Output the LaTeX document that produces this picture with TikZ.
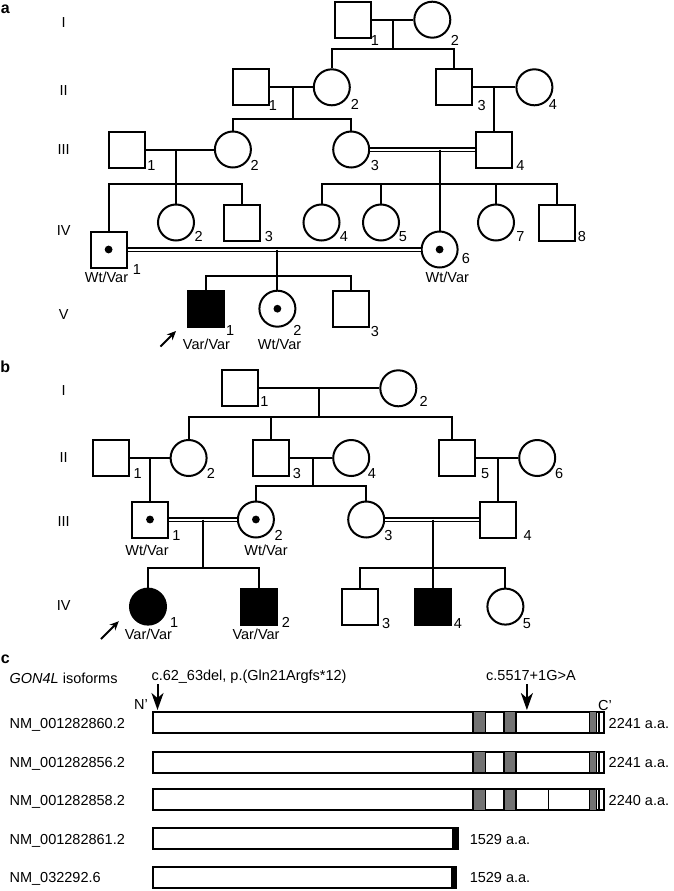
\documentclass[tikz,border=0pt]{standalone}
\usepackage{fontspec}
\setmainfont{Liberation Sans}
\usetikzlibrary{arrows.meta}

\begin{document}
\begin{tikzpicture}[x=1pt, y=-1pt, line width=2pt,
    font=\fontsize{14.5}{17}\selectfont,
    male/.style={draw, rectangle, minimum size=36pt, inner sep=0pt},
    female/.style={draw, circle, minimum size=36pt, inner sep=0pt},
    aff/.style={fill=black},
    carrier/.style={path picture={\fill (path picture bounding box.center) circle (3.9pt);}},
    lab/.style={inner sep=0pt, text height=10.4pt, text depth=0pt},
    panel/.style={anchor=base, inner sep=0pt, font=\fontsize{16}{18}\selectfont\bfseries},
    consang/.style={double, double distance=2pt, line width=1.4pt},
    proband/.style={line width=2pt, -{Stealth[length=9pt, width=8pt]}},
    mutation/.style={line width=2pt, -{Stealth[length=17pt, width=12pt, inset=5pt]}},
    bar/.style={draw, line width=1.8pt, fill=white},
    dom/.style={draw, line width=1.3pt, fill=black!55}]

  \useasboundingbox (0,0) rectangle (674,891);

  % ---------------- panel a ----------------
  \node[panel] (pa) at (5.3,13.3) {a};
  \node[lab] (aGI)   at (63.7,22)    {I};
  \node[lab] (aGII)  at (63.7,90)    {II};
  \node[lab] (aGIII) at (63.7,149.5) {III};
  \node[lab] (aGIV)  at (63.7,230)   {IV};
  \node[lab] (aGV)   at (63.7,314)   {V};

  % generation I
  \node[male]   (aI1) at (352.7,19.7) {};
  \node[female] (aI2) at (432.3,19.7) {};
  \coordinate (aM1) at (392.7,19.7);
  \coordinate (aS1) at (392.7,49.3);

  % generation II
  \node[male]   (aII1) at (250.8,87.3) {};
  \node[female] (aII2) at (331.8,87.3) {};
  \node[male]   (aII3) at (453.8,87.3) {};
  \node[female] (aII4) at (534.4,87.3) {};
  \coordinate (aM2) at (292.5,87.3);
  \coordinate (aS2) at (292.5,119.3);
  \coordinate (aM3) at (494,87.3);

  % generation III
  \node[male]   (aIII1) at (127,149.5)   {};
  \node[female] (aIII2) at (232.9,149.5) {};
  \node[female] (aIII3) at (351.2,149.5) {};
  \node[male]   (aIII4) at (494,149.5)   {};
  \coordinate (aM4) at (176,149.5);
  \coordinate (aS4) at (176,184.3);
  \coordinate (aM5) at (439.6,149.5);
  \coordinate (aS5) at (439.6,184.3);

  % generation IV
  \node[male, carrier]   (aIV1) at (108.6,249.5) {};
  \node[female]          (aIV2) at (176,222.5)   {};
  \node[male]            (aIV3) at (242,222.5)   {};
  \node[female]          (aIV4) at (321.5,222.5) {};
  \node[female]          (aIV5) at (381,222.5)   {};
  \node[female, carrier] (aIV6) at (439.6,249.5) {};
  \node[female]          (aIV7) at (496,222.5)   {};
  \node[male]            (aIV8) at (557.2,222.5) {};
  \coordinate (aM6) at (277.4,249.5);
  \coordinate (aS6) at (277.4,276);

  % generation V
  \node[male, aff]       (aV1) at (205.5,308.7) {};
  \node[female, carrier] (aV2) at (277.4,308.7) {};
  \node[male]            (aV3) at (351,308.7)   {};

  % lines of descent
  \draw (aI1) -- (aI2);
  \draw (aM1) -- (aS1);
  \draw (aII2.north) |- (aS1) -| (aII3.north);

  \draw (aII1) -- (aII2);
  \draw (aII3) -- (aII4);
  \draw (aM2) -- (aS2);
  \draw (aIII2.north) |- (aS2) -| (aIII3.north);
  \draw (aM3) -- (aIII4.north);

  \draw (aIII1) -- (aIII2);
  \draw[consang] (aIII3) -- (aIII4);
  \draw (aM4) -- (aIV2.north);
  \draw (aIV1.north) |- (aS4) -| (aIV3.north);
  \draw (aM5) -- (aIV6.north);
  \draw (aIV4.north) |- (aS5) -| (aIV8.north);
  \draw (aIV5.north) -- (aIV5.north |- aS5);
  \draw (aIV7.north) -- (aIV7.north |- aS5);

  \draw[consang] (aIV1) -- (aIV6);
  \draw (aM6) -- (aV2.north);
  \draw (aV1.north) |- (aS6) -| (aV3.north);

  % numbers and genotypes
  \node[lab] (aI1n)   at (375,40)      {1};
  \node[lab] (aI2n)   at (455,40)      {2};
  \node[lab] (aII1n)  at (273,105)     {1};
  \node[lab] (aII2n)  at (354.8,104)   {2};
  \node[lab] (aII3n)  at (481.7,105)   {3};
  \node[lab] (aII4n)  at (553,104)     {4};
  \node[lab] (aIII1n) at (151.4,165)   {1};
  \node[lab] (aIII2n) at (254.6,165)   {2};
  \node[lab] (aIII3n) at (375,165)     {3};
  \node[lab] (aIII4n) at (520.4,165)   {4};
  \node[lab] (aIV2n)  at (198.7,236)   {2};
  \node[lab] (aIV3n)  at (268.8,236)   {3};
  \node[lab] (aIV4n)  at (344,236)     {4};
  \node[lab] (aIV5n)  at (403,236)     {5};
  \node[lab] (aIV7n)  at (520.4,236)   {7};
  \node[lab] (aIV8n)  at (582,236)     {8};
  \node[lab] (aIV1n)  at (136.8,269.3) {1};
  \node[lab] (aIV6n)  at (465.8,258.3) {6};
  \node[lab] (aIV1g)  at (106.5,277)   {Wt/Var};
  \node[lab] (aIV6g)  at (447.3,277)   {Wt/Var};
  \node[lab] (aV1n)   at (230.1,330.5) {1};
  \node[lab] (aV2n)   at (297.3,330.5) {2};
  \node[lab] (aV3n)   at (375,331.7)   {3};
  \node[lab] (aV1g)   at (206.5,344)   {Var/Var};
  \node[lab] (aV2g)   at (279.6,344)   {Wt/Var};

  % proband
  \coordinate (aPt) at (160.5,346.5);
  \coordinate (aPh) at (176,331);
  \draw[proband] (aPt) -- (aPh);

  % ---------------- panel b ----------------
  \node[panel] (pb) at (5.3,372.7) {b};
  \node[lab] (bGI)   at (63.7,390)   {I};
  \node[lab] (bGII)  at (63.7,457)   {II};
  \node[lab] (bGIII) at (63.7,521.7) {III};
  \node[lab] (bGIV)  at (63.7,605)   {IV};

  % generation I
  \node[male]   (bI1) at (240,388.3)   {};
  \node[female] (bI2) at (398.3,388.3) {};
  \coordinate (bM1) at (318.7,388.3);
  \coordinate (bS1) at (318.7,416.7);

  % generation II
  \node[male]   (bII1) at (111,458)   {};
  \node[female] (bII2) at (188.6,458) {};
  \node[male]   (bII3) at (270.5,458) {};
  \node[female] (bII4) at (351.2,458) {};
  \node[male]   (bII5) at (457.4,458) {};
  \node[female] (bII6) at (537.2,458) {};
  \coordinate (bM2) at (150,458);
  \coordinate (bM3) at (312.7,458);
  \coordinate (bS3) at (312.7,486);
  \coordinate (bM4) at (497.8,458);

  % generation III
  \node[male, carrier]   (bIII1) at (150,519.5)   {};
  \node[female, carrier] (bIII2) at (255.9,519.5) {};
  \node[female]          (bIII3) at (366.2,519.5) {};
  \node[male]            (bIII4) at (497.8,519.5) {};
  \coordinate (bM5) at (203,519.5);
  \coordinate (bS5) at (203,567.7);
  \coordinate (bM6) at (432.6,519.5);
  \coordinate (bS6) at (432.6,567.7);

  % generation IV
  \node[female, aff] (bIV1) at (148,606.6)   {};
  \node[male, aff]   (bIV2) at (258.5,606.6) {};
  \node[male]        (bIV3) at (360.2,606.6) {};
  \node[male, aff]   (bIV4) at (432.6,606.6) {};
  \node[female]      (bIV5) at (505.4,606.6) {};

  % lines of descent
  \draw (bI1) -- (bI2);
  \draw (bM1) -- (bS1);
  \draw (bII2.north) |- (bS1) -| ([xshift=-5.8pt]bII5.north);
  \draw (bII3.north) -- (bII3.north |- bS1);

  \draw (bII1) -- (bII2);
  \draw (bII3) -- (bII4);
  \draw (bII5) -- (bII6);
  \draw (bM2) -- (bIII1.north);
  \draw (bM3) -- (bS3);
  \draw (bIII2.north) |- (bS3) -| (bIII3.north);
  \draw (bM4) -- (bIII4.north);

  \draw[consang] (bIII1) -- (bIII2);
  \draw[consang] (bIII3) -- (bIII4);
  \draw (bM5) -- (bS5);
  \draw (bIV1.north) |- (bS5) -| (bIV2.north);
  \draw (bM6) -- (bIV4.north);
  \draw (bIV3.north) |- (bS6) -| (bIV5.north);

  % numbers and genotypes
  \node[lab] (bI1n)   at (264.5,401.7) {1};
  \node[lab] (bI2n)   at (423.7,401.7) {2};
  \node[lab] (bII1n)  at (137.6,473.3) {1};
  \node[lab] (bII2n)  at (210.8,473.3) {2};
  \node[lab] (bII3n)  at (296.8,473.3) {3};
  \node[lab] (bII4n)  at (372,473.3)   {4};
  \node[lab] (bII5n)  at (485.2,473.3) {5};
  \node[lab] (bII6n)  at (559.1,473.3) {6};
  \node[lab] (bIII1n) at (176.3,535)   {1};
  \node[lab] (bIII2n) at (278.7,535)   {2};
  \node[lab] (bIII3n) at (388.4,535)   {3};
  \node[lab] (bIII4n) at (527.7,535)   {4};
  \node[lab] (bIII1g) at (147,550.5)   {Wt/Var};
  \node[lab] (bIII2g) at (266,550.5)   {Wt/Var};
  \node[lab] (bIV1n)  at (174.2,622.5) {1};
  \node[lab] (bIV2n)  at (286,622.5)   {2};
  \node[lab] (bIV3n)  at (386.2,623.3) {3};
  \node[lab] (bIV4n)  at (458,623.3)   {4};
  \node[lab] (bIV5n)  at (526.9,623.3) {5};
  \node[lab] (bIV1g)  at (148.4,634.5) {Var/Var};
  \node[lab] (bIV2g)  at (256,634.5)   {Var/Var};

  % proband
  \coordinate (bPt) at (101,639);
  \coordinate (bPh) at (118.8,621.2);
  \draw[proband] (bPt) -- (bPh);

  % ---------------- panel c ----------------
  \node[panel] (pc) at (5.3,663.5) {c};
  \node[lab, anchor=west] (cHead) at (8.6,678.3) {\textit{GON4L} isoforms};
  \node[lab, anchor=west] (cVar1) at (150.5,675) {c.62\_63del, p.(Gln21Argfs*12)};
  \node[lab, anchor=west] (cVar2) at (485.2,675) {c.5517+1G>A};
  \node[lab] (cN) at (141,704) {N'};
  \node[lab] (cC) at (605,705) {C'};

  % variant arrows
  \coordinate (cA1t) at (157.5,684);
  \coordinate (cA1h) at (157.5,710);
  \coordinate (cA2t) at (526.9,684);
  \coordinate (cA2h) at (526.9,710);
  \draw[mutation] (cA1t) -- (cA1h);
  \draw[mutation] (cA2t) -- (cA2h);

  % full-length isoforms
  \draw[bar] (152.7,711.8) rectangle (604.3,732.8);
  \draw[bar] (152.7,751.7) rectangle (604.3,772.7);
  \draw[bar] (152.7,789.3) rectangle (604.3,810.3);
  \draw[dom] (473.1,711.8) rectangle (485.2,732.8);
  \draw[dom] (504.1,711.8) rectangle (516.1,732.8);
  \draw[dom] (589.2,711.8) rectangle (596.6,732.8);
  \draw[dom] (473.1,751.7) rectangle (485.2,772.7);
  \draw[dom] (504.1,751.7) rectangle (516.1,772.7);
  \draw[dom] (589.2,751.7) rectangle (596.6,772.7);
  \draw[dom] (473.1,789.3) rectangle (485.2,810.3);
  \draw[dom] (504.1,789.3) rectangle (516.1,810.3);
  \draw[dom] (589.2,789.3) rectangle (596.6,810.3);
  \draw[line width=1.3pt] (598.9,711.8) -- (598.9,732.8);
  \draw[line width=1.3pt] (598.9,751.7) -- (598.9,772.7);
  \draw[line width=1.3pt] (598.9,789.3) -- (598.9,810.3);
  \draw[line width=1.3pt] (548.4,789.3) -- (548.4,810.3);

  % short isoforms
  \draw[bar] (152.7,828.3) rectangle (458,849.3);
  \draw[bar] (152.7,866.7) rectangle (456,887.7);
  \fill (451.6,828.3) rectangle (458,849.3);
  \fill (450.6,866.7) rectangle (456,887.7);

  % isoform names and lengths
  \node[lab, anchor=west] (cI1) at (8.6,723.5) {NM\_001282860.2};
  \node[lab, anchor=west] (cI2) at (8.6,762.7) {NM\_001282856.2};
  \node[lab, anchor=west] (cI3) at (8.6,800.3) {NM\_001282858.2};
  \node[lab, anchor=west] (cI4) at (8.6,839.3) {NM\_001282861.2};
  \node[lab, anchor=west] (cI5) at (8.6,877.7) {NM\_032292.6};
  \node[lab, anchor=west] (cL1) at (607.7,723.5) {2241 a.a.};
  \node[lab, anchor=west] (cL2) at (607.7,762.7) {2241 a.a.};
  \node[lab, anchor=west] (cL3) at (607.7,800.3) {2240 a.a.};
  \node[lab, anchor=west] (cL4) at (468.8,839.3) {1529 a.a.};
  \node[lab, anchor=west] (cL5) at (468.8,877.7) {1529 a.a.};

\end{tikzpicture}
\end{document}
